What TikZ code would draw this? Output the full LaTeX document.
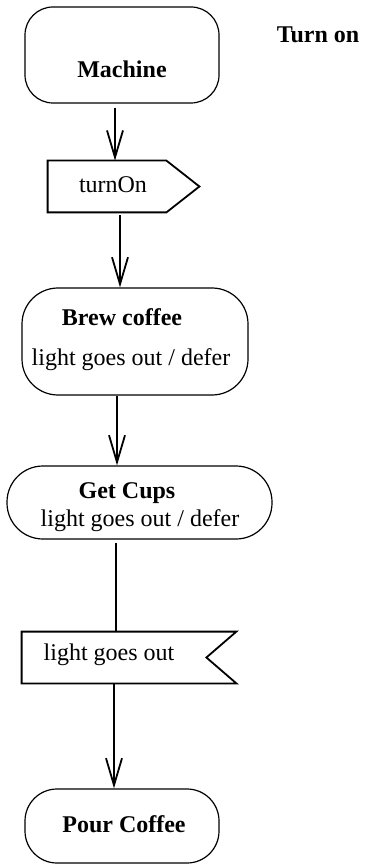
\documentclass[tikz,border=0pt]{standalone}
\usepackage{fontspec}
\setmainfont{Liberation Serif}
\newfontfamily\timesface{Liberation Serif}
\usetikzlibrary{arrows.meta}
\begin{document}
\begin{tikzpicture}[x=0.5pt,y=-0.5pt,
  every node/.style={font=\timesface\fontsize{12}{14.4}\selectfont},
  statebox/.style={draw, line width=0.6pt, inner sep=0pt},
  sigbox/.style={inner sep=0pt},
  sigline/.style={draw, line width=0.9pt, line join=miter},
  txt/.style={inner sep=0pt, anchor=base},
  btxt/.style={inner sep=0pt, anchor=base, font=\timesface\fontsize{12}{14.4}\selectfont\bfseries},
  arr/.style={line width=0.9pt, -{Straight Barb[length=13.5pt,width=8pt,line width=0.9pt]}},
  conn/.style={line width=0.9pt}]
\useasboundingbox (0,0) rectangle (368,865);

% states
\node[statebox, rounded corners=14pt, minimum width=97pt, minimum height=48pt] (machine) at (122,55) {};
\node[btxt] (machineT) at (122,78) {Machine};
\node[btxt] (turnonT) at (318,43) {Turn on};

% send signal
\node[sigbox, minimum width=75.5pt, minimum height=25.5pt] (send) at (123.5,186.5) {};
\draw[sigline] (send.north west) -- ([xshift=-16.5pt]send.north east) -- (send.east)
  -- ([xshift=-16.5pt]send.south east) -- (send.south west) -- cycle;
\node[txt] (sendT) at (113,193) {turnOn};

\node[statebox, rounded corners=18pt, minimum width=113pt, minimum height=53.5pt] (brew) at (135,341.5) {};
\node[btxt] (brewT) at (122,326) {Brew coffee};
\node[txt] (brewD) at (131,365) {light goes out / defer};

\node[statebox, rounded corners=18pt, minimum width=132.5pt, minimum height=36.5pt] (cups) at (139.5,502.5) {};
\node[btxt] (cupsT) at (127,498) {Get Cups};
\node[txt] (cupsD) at (140,526) {light goes out / defer};

% receive signal
\node[sigbox, minimum width=107pt, minimum height=25.5pt] (recv) at (129,657.5) {};
\draw[sigline] (recv.north west) -- (recv.north east) -- ([xshift=-15pt]recv.east)
  -- (recv.south east) -- (recv.south west) -- cycle;
\node[txt] (recvT) at (109,660) {light goes out};

\node[statebox, rounded corners=16pt, minimum width=97pt, minimum height=37pt] (pour) at (122,826) {};
\node[btxt] (pourT) at (124,832) {Pour Coffee};

% connectors
\draw[arr] ([xshift=-3.5pt,yshift=-2pt]machine.south) -- ([xshift=-4.25pt]send.north);
\draw[arr] ([xshift=-1.75pt,yshift=-1.5pt]send.south) -- ([xshift=-7.5pt]brew.north);
\draw[arr] ([xshift=-9pt]brew.south) -- ([xshift=-11.25pt]cups.north);
\draw[conn] ([xshift=-11.75pt,yshift=-1.5pt]cups.south) -- ([xshift=-6.5pt]recv.north);
\draw[arr] ([xshift=-7.5pt]recv.south) -- ([xshift=-4pt]pour.north);
\end{tikzpicture}
\end{document}
